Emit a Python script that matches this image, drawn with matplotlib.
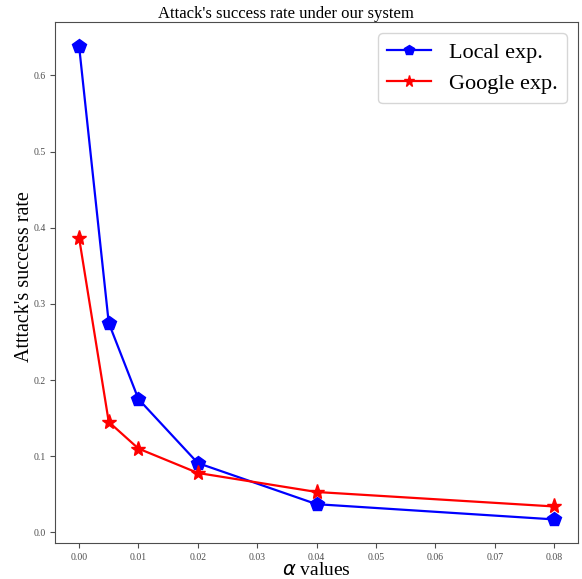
import matplotlib
matplotlib.use('Agg')
import matplotlib.pyplot as plt

alpha_values = [0.0, 0.005, 0.01, 0.02, 0.04, 0.08]
local_rate = [0.639, 0.275, 0.175, 0.091, 0.037, 0.017]
google_rate = [0.387, 0.145, 0.110, 0.078, 0.053, 0.034]

plt.rcParams['font.family'] = ['Liberation Serif', 'DejaVu Serif']

fig, ax = plt.subplots(figsize=(5.82, 5.79), dpi=100)
ax.plot(alpha_values, local_rate, color='blue', marker='p', markersize=10, lw=1.6, label='Local exp.')
ax.plot(alpha_values, google_rate, color='red', marker='*', markersize=11, lw=1.6, label='Google exp.')

ax.set_title("Attack's success rate under our system", fontsize=12, pad=3, x=0.442)
ax.set_xlabel(r'$\alpha$ values', fontsize=14, labelpad=0)
ax.set_ylabel("Atttack's success rate", fontsize=14.5)
ax.yaxis.set_label_coords(-0.041, 0.512)
ax.set_xticks([0.0, 0.01, 0.02, 0.03, 0.04, 0.05, 0.06, 0.07, 0.08])
ax.set_yticks([0.0, 0.1, 0.2, 0.3, 0.4, 0.5, 0.6])
ax.tick_params(labelsize=7, colors='0.3')
for s in ax.spines.values():
    s.set_color('0.3')
ax.legend(loc='upper right', fontsize=16, markerscale=0.75)

fig.subplots_adjust(left=0.095, right=0.993, top=0.962, bottom=0.062)
fig.savefig('out.png', dpi=100)
